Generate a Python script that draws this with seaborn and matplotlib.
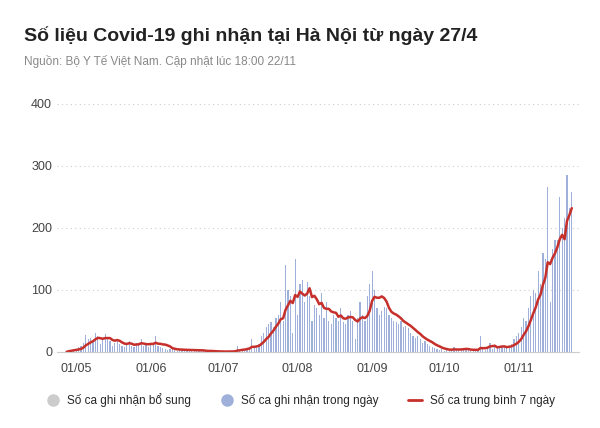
import numpy as np
import pandas as pd
import matplotlib
matplotlib.use("Agg")
import matplotlib.pyplot as plt
from matplotlib.lines import Line2D
import seaborn as sns

start_date = "2021-04-27"
apr = [0, 2, 3, 5]
may = [5, 8, 10, 15, 27, 20, 22, 18, 30, 25, 12, 20, 28, 22, 18, 10, 15, 20, 12, 10, 8, 14, 18, 10, 8, 15, 12, 20, 10, 12, 8]
jun = [12, 15, 25, 10, 8, 6, 5, 3, 4, 5, 3, 2, 4, 3, 2, 3, 5, 2, 1, 2, 3, 1, 2, 1, 0, 1, 0, 1, 0, 1]
jul = [0, 0, 1, 0, 2, 1, 10, 3, 5, 4, 6, 8, 20, 10, 8, 12, 25, 30, 40, 45, 48, 40, 55, 60, 80, 50, 140, 100, 90, 30, 150]
aug = [60, 110, 115, 80, 112, 90, 50, 75, 70, 60, 95, 55, 80, 50, 45, 60, 55, 50, 70, 48, 45, 60, 65, 50, 20, 55, 80, 60, 50, 90, 110]
sep = [130, 100, 70, 60, 65, 72, 70, 60, 55, 50, 48, 45, 50, 40, 42, 38, 30, 25, 22, 25, 20, 15, 18, 12, 10, 8, 6, 5, 3, 4]
oct_ = [2, 3, 2, 5, 8, 3, 2, 4, 5, 6, 3, 2, 1, 2, 3, 25, 5, 3, 8, 15, 5, 8, 6, 10, 8, 9, 7, 10, 12, 20, 25]
nov = [30, 40, 55, 50, 70, 90, 100, 95, 130, 110, 160, 150, 265, 80, 165, 180, 180, 250, 200, 215, 285, 232, 258]
tick_labels = ["01/05", "01/06", "01/07", "01/08", "01/09", "01/10", "01/11"]
tick_dates = ["2021-05-01", "2021-06-01", "2021-07-01", "2021-08-01", "2021-09-01", "2021-10-01", "2021-11-01"]
legend_labels = ["Số ca ghi nhận bổ sung", "Số ca ghi nhận trong ngày", "Số ca trung bình 7 ngày"]

daily = apr + may + jun + jul + aug + sep + oct_ + nov
df = pd.DataFrame({"day": np.arange(len(daily)), "cases": daily})
df["avg"] = df["cases"].rolling(7, min_periods=1).mean()
ticks = [(pd.Timestamp(d) - pd.Timestamp(start_date)).days for d in tick_dates]

sns.set_style("white")
plt.rcParams["font.family"] = ["Liberation Sans", "DejaVu Sans"]
fig = plt.figure(figsize=(6, 4.28), dpi=100)
ax = fig.add_axes([0.095, 0.178, 0.87, 0.58])
bar_c = "#9fb0da"
line_c = "#c62f2a"
sns.barplot(data=df, x="day", y="cases", native_scale=True, color=bar_c, width=0.5,
            saturation=1, ax=ax, edgecolor="none")
sns.lineplot(data=df, x="day", y="avg", color=line_c, lw=1.8, ax=ax)
ax.set_ylim(0, 400)
ax.set_xlim(-4, len(daily) + 2)
ax.set_yticks([0, 100, 200, 300, 400])
ax.set_xticks(ticks)
ax.set_xticklabels(tick_labels)
ax.tick_params(axis="both", labelsize=9, colors="#444444", length=0)
ax.tick_params(axis="x", pad=8)
ax.set_xlabel(""); ax.set_ylabel("")
ax.yaxis.grid(True, ls=(0, (1, 3)), color="#cccccc", lw=0.8)
for s in ["top", "right", "left"]:
    ax.spines[s].set_visible(False)
ax.spines["bottom"].set_color("#cccccc")

fig.text(0.04, 0.905, "Số liệu Covid-19 ghi nhận tại Hà Nội từ ngày 27/4", fontsize=14,
         fontweight="bold", color="#222222")
fig.text(0.04, 0.848, "Nguồn: Bộ Y Tế Việt Nam. Cập nhật lúc 18:00 22/11", fontsize=8.5, color="#888888")

handles = [Line2D([], [], marker="o", ls="", color="#cccccc", markersize=8),
           Line2D([], [], marker="o", ls="", color=bar_c, markersize=8),
           Line2D([], [], color=line_c, lw=2)]
fig.legend(handles, legend_labels, loc="center", bbox_to_anchor=(0.5, 0.065), ncol=3,
           frameon=False, fontsize=8.5, handlelength=1.2, columnspacing=2.5, handletextpad=0.6)
fig.savefig("out.png", dpi=100)
